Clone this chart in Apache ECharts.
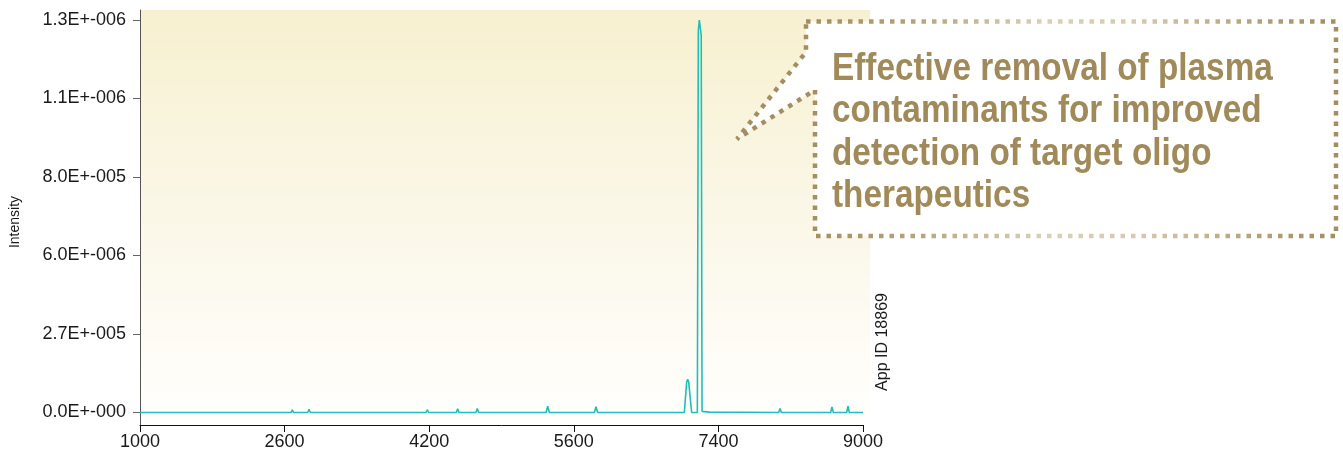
<!DOCTYPE html>
<html>
<head>
<meta charset="utf-8">
<script src="https://cdn.jsdelivr.net/npm/echarts@6/dist/echarts.min.js"></script>
<style>
  html, body { margin: 0; padding: 0; background: #ffffff; }
  #chart { width: 1343px; height: 456px; }
</style>
</head>
<body>
<div id="chart"></div>
<script>
// ---- data ----
const xTickValues = [1000, 2600, 4200, 5800, 7400, 9000];
const xTickLabels = ['1000', '2600', '4200', '5600', '7400', '9000'];
const yTickValues = [0, 20, 40, 60, 80, 100];
const yTickLabels = ['0.0E+-000', '2.7E+-005', '6.0E+-006', '8.0E+-005', '1.1E+-006', '1.3E+-006'];

// spectrum (x = mass axis units, y = relative intensity on the 0..100 tick scale)
const specX = [1000, 2670, 2685, 2700, 2855, 2870, 2885, 4164, 4179, 4194,
  4500, 4515, 4530, 4717, 4732, 4747, 5493, 5511, 5529, 6028, 6046, 6064,
  7023, 7049, 7060, 7071, 7104, 7167, 7178, 7189, 7200, 7210, 7219, 7300,
  8067, 8082, 8097, 8642, 8657, 8672, 8819, 8834, 8849, 9000];
const specY = [0, 0, 0.65, 0, 0, 0.8, 0, 0, 0.7, 0,
  0, 0.95, 0, 0, 1.0, 0, 0, 1.6, 0, 0, 1.45, 0,
  0, 7.8, 8.5, 7.8, 0, 0, 97.4, 100, 99.5, 96, 0.3, 0.1,
  0, 1.0, 0, 0, 1.45, 0, 0, 1.6, 0, 0];

const yAxisTitle = 'Intensity';
const sideNote = 'App ID 18869';
const calloutLines = ['Effective removal of plasma', 'contaminants for improved',
  'detection of target oligo', 'therapeutics'];

const seriesData = specX.map((x, i) => [x, specY[i]]);

const chart = echarts.init(document.getElementById('chart'), null, { renderer: 'canvas' });

const labelFont = 'Liberation Sans, Arial, Helvetica, sans-serif';
const tan = '#a08a5a';

const calloutTexts = calloutLines.map((t, i) => ({
  type: 'text',
  x: 832,
  y: 69.5 + i * 42.5,
  scaleX: 0.877,
  z: 20,
  style: {
    text: t,
    fontFamily: labelFont,
    fontWeight: 'bold',
    fontSize: 38,
    fill: tan,
    align: 'left', verticalAlign: 'middle',
    textAlign: 'left', textVerticalAlign: 'middle'
  }
}));

const option = {
  animation: false,
  backgroundColor: '#ffffff',
  grid: { left: 140, right: 480, top: 10, bottom: 31, containLabel: false },
  xAxis: {
    type: 'value',
    min: 1000, max: 9000, interval: 1600,
    axisLine: { show: true, onZero: false, lineStyle: { color: '#111', width: 1 } },
    axisTick: { show: true, length: 7, lineStyle: { color: '#111' } },
    axisLabel: {
      show: true, margin: 8, fontSize: 18, color: '#1a1a1a', fontFamily: labelFont,
      showMinLabel: true, showMaxLabel: true,
      formatter: v => { const i = xTickValues.indexOf(v); return i >= 0 ? xTickLabels[i] : ''; }
    },
    splitLine: { show: false }
  },
  yAxis: {
    type: 'value',
    min: -3.18, max: 102.55,
    axisLine: { show: true, lineStyle: { color: '#555', width: 1 } },
    axisTick: { show: true, length: 7, customValues: yTickValues, lineStyle: { color: '#666' } },
    axisLabel: {
      show: true, margin: 14, fontSize: 18, color: '#1a1a1a', fontFamily: labelFont,
      customValues: yTickValues,
      formatter: v => { const i = yTickValues.indexOf(v); return i >= 0 ? yTickLabels[i] : ''; }
    },
    splitLine: { show: false }
  },
  graphic: [
    {
      type: 'rect', z: -10, silent: true,
      shape: { x: 140, y: 10, width: 730, height: 415 },
      style: {
        fill: {
          type: 'linear', x: 0, y: 0, x2: 0, y2: 1,
          colorStops: [
            { offset: 0, color: '#f7f0d0' },
            { offset: 0.55, color: '#fbf8ea' },
            { offset: 1, color: '#fffffd' }
          ]
        }
      }
    },
    {
      type: 'polygon', z: 15, silent: true,
      shape: { points: [[806, 21.5], [1336, 21.5], [1336, 236], [815, 236], [815, 90], [737, 139], [806, 52]] },
      style: {
        fill: '#ffffff',
        stroke: {
          type: 'linear', x: 806, y: 0, x2: 1336, y2: 0, global: true,
          colorStops: [
            { offset: 0, color: '#a38e62' },
            { offset: 0.2, color: '#b4a27c' },
            { offset: 0.45, color: '#dad0b8' },
            { offset: 0.62, color: '#d6cbb1' },
            { offset: 0.85, color: '#b3a17b' },
            { offset: 1, color: '#a38e62' }
          ]
        },
        lineWidth: 4.5,
        lineJoin: 'bevel',
        lineDash: [4.5, 6]
      }
    },
    ...calloutTexts,
    {
      type: 'text', x: 15, y: 222, rotation: Math.PI / 2, z: 20,
      style: {
        text: yAxisTitle, fontFamily: labelFont, fontSize: 14, fill: '#1a1a1a',
        align: 'center', verticalAlign: 'middle', textAlign: 'center', textVerticalAlign: 'middle'
      }
    },
    {
      type: 'text', x: 883, y: 342, rotation: Math.PI / 2, z: 20,
      style: {
        text: sideNote, fontFamily: labelFont, fontSize: 16, fill: '#1a1a1a',
        align: 'center', verticalAlign: 'middle', textAlign: 'center', textVerticalAlign: 'middle'
      }
    }
  ],
  series: [
    {
      type: 'line',
      data: seriesData,
      showSymbol: false,
      symbol: 'none',
      smooth: false,
      lineStyle: { color: '#22bdb6', width: 1.6 },
      z: 5
    }
  ]
};

chart.setOption(option);
</script>
</body>
</html>
